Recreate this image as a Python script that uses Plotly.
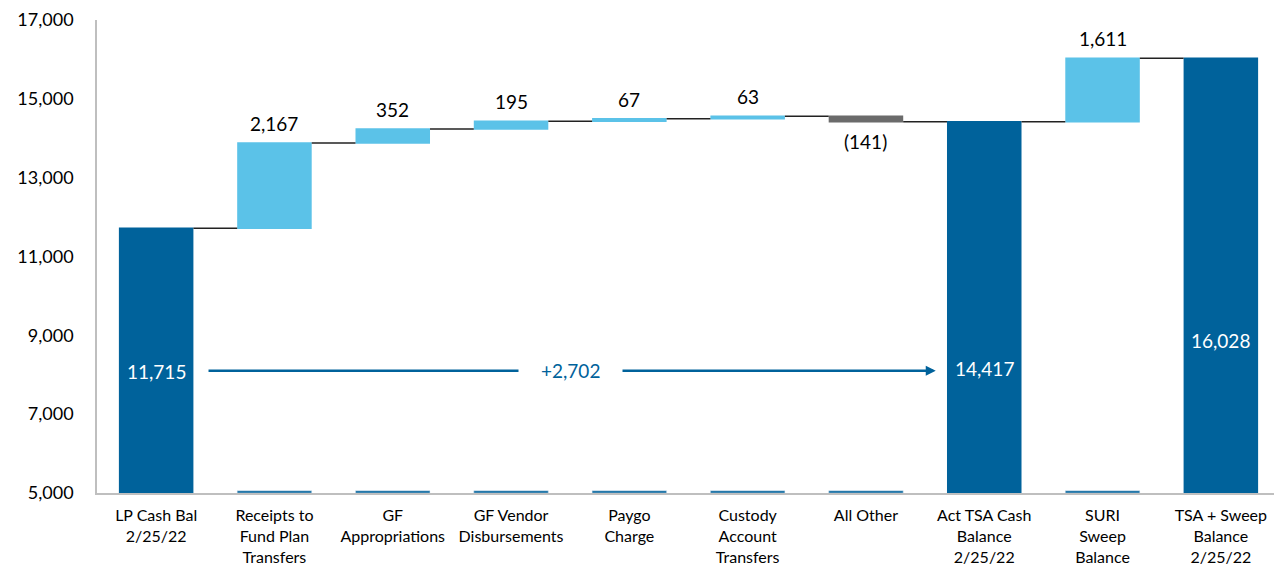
import plotly.graph_objects as go

categories = ["LP Cash Bal<br>2/25/22", "Receipts to<br>Fund Plan<br>Transfers", "GF<br>Appropriations",
              "GF Vendor<br>Disbursements", "Paygo<br>Charge", "Custody<br>Account<br>Transfers",
              "All Other", "Act TSA Cash<br>Balance<br>2/25/22", "SURI<br>Sweep<br>Balance",
              "TSA + Sweep<br>Balance<br>2/25/22"]
values = [11715, 2167, 352, 195, 67, 63, -141, 14417, 1611, 16028]
measures = ["absolute", "relative", "relative", "relative", "relative", "relative", "relative",
            "absolute", "relative", "absolute"]
y_ticks = [5000, 7000, 9000, 11000, 13000, 15000, 17000]

DARK = "#00629B"
LIGHT = "#5BC2E8"
GREY = "#6B6B6B"
FONT = "Lato"
Y_MIN, Y_MAX = 5000, 17000
GAP = 0.37

fig = go.Figure()
fig.add_trace(go.Waterfall(
    x=categories, y=values, measure=measures,
    increasing=dict(marker=dict(color=LIGHT)),
    decreasing=dict(marker=dict(color=GREY)),
    totals=dict(marker=dict(color=DARK)),
    connector=dict(mode="between", line=dict(color="#222222", width=1.5)),
    text=None, hoverinfo="x+y",
))

# thin baseline segments under floating bars
float_idx = [i for i, m in enumerate(measures) if m == "relative"]
fig.add_trace(go.Bar(
    x=[categories[i] for i in float_idx], y=[55] * len(float_idx), base=Y_MIN,
    marker=dict(color=DARK), hoverinfo="skip", showlegend=False,
))

def fmt(v):
    return f"({abs(v):,})" if v < 0 else f"{v:,}"

annotations = []
running = 0
total_label_y = {0: 8080, 7: 8150, 9: 8880}
for i, (v, m) in enumerate(zip(values, measures)):
    if m == "absolute":
        running = v
        annotations.append(dict(x=i, y=total_label_y[i], text=fmt(v), showarrow=False,
                                font=dict(family=FONT, size=19, color="white")))
    else:
        running += v
        if v >= 0:
            annotations.append(dict(x=i, y=running, text=fmt(v), showarrow=False, yanchor="bottom",
                                    yshift=6, font=dict(family=FONT, size=19, color="black")))
        else:
            annotations.append(dict(x=i, y=running, text=fmt(v), showarrow=False, yanchor="top",
                                    yshift=-6, font=dict(family=FONT, size=19, color="black")))

change = values[7] - values[0]
arrow_y = 8100
annotations.append(dict(x=6.59, y=arrow_y, ax=0.43, ay=arrow_y, xref="x", yref="y", axref="x", ayref="y",
                        text="", showarrow=True, arrowhead=2, arrowsize=0.8, arrowwidth=2.5,
                        arrowcolor=DARK))
annotations.append(dict(x=3.5, y=arrow_y, text=f"+{change:,}", showarrow=False, bgcolor="white",
                        borderpad=22, font=dict(family=FONT, size=19, color=DARK)))

fig.update_layout(
    width=1274, height=559,
    margin=dict(l=89, r=2, t=12, b=74, autoexpand=False),
    paper_bgcolor="white", plot_bgcolor="white",
    showlegend=False,
    waterfallgap=GAP, bargap=GAP, barmode="overlay",
    font=dict(family=FONT, color="black"),
    annotations=annotations,
    xaxis=dict(showline=True, linecolor="#BFBFBF", linewidth=1.5, showgrid=False, automargin=False,
               tickfont=dict(family=FONT, size=16, color="black"), ticks="", ticklabelstandoff=7),
    yaxis=dict(range=[Y_MIN, Y_MAX], tickvals=y_ticks, tickformat=",", showline=True, automargin=False,
               linecolor="#BFBFBF", linewidth=1.5, showgrid=False, zeroline=False,
               ticklabeloverflow="allow",
               tickfont=dict(family=FONT, size=18, color="black"), ticks="", ticklabelstandoff=18),
)

fig.write_html("out.html")
